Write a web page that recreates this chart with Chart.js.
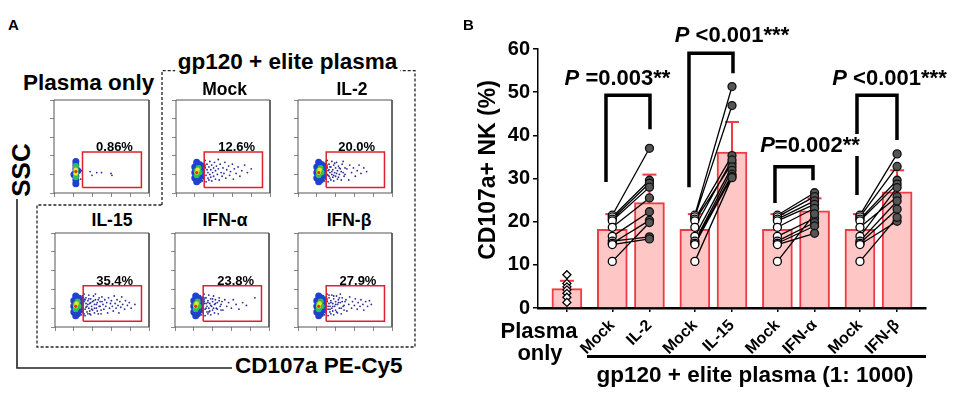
<!DOCTYPE html>
<html><head><meta charset="utf-8">
<script src="https://cdn.jsdelivr.net/npm/chart.js@4.4.0/dist/chart.umd.min.js"></script>
<style>
html,body{margin:0;padding:0;background:#fff;}
#root{position:relative;width:957px;height:395px;overflow:hidden;background:#fff;font-family:"Liberation Sans",Arial,sans-serif;font-weight:bold;color:#000;}
.t{position:absolute;white-space:nowrap;}
canvas{position:absolute;}
</style></head>
<body><div id="root">
<svg width="957" height="395" style="position:absolute;left:0;top:0">
 <polyline points="162,205 162,70.7 415,70.7 415,347 37,347 37,205 162,205" fill="none" stroke="#222" stroke-width="1.3" stroke-dasharray="3 2"/>
 <polyline points="17,199 17,368 232,368" fill="none" stroke="#222" stroke-width="1.6"/>
</svg>
</div>
<script>
// ---------------- Panel B data ----------------
const xTickPos    = [0, 1.1, 2, 3.1, 4, 5.1, 6, 7.1, 8];
const xTickLabels = ['', 'Mock', 'IL-2', 'Mock', 'IL-15', 'Mock', 'IFN-α', 'Mock', 'IFN-β'];
const barVals     = [4.5, 18.2, 24.4, 18.2, 36.1, 18.2, 22.5, 18.2, 26.9];
const errTop      = [6.3, 21.75, 30.9, 21.75, 43.1, 21.75, 25.4, 21.75, 31.9];
const plasmaVals  = [7.7, 5.7, 4.9, 4.2, 3.4, 2.5, 1.3];
const mockVals    = [21.5, 21.1, 20.6, 20.2, 18.7, 16.6, 15.5, 15.0, 14.7, 10.8];
const il2Vals     = [37.0, 29.6, 28.9, 28.0, 25.5, 22.3, 16.5, 20.3, 16.0, 19.8];
const il15Vals    = [51.3, 46.9, 35.3, 33.5, 34.3, 32.7, 31.9, 31.0, 30.5, 30.2];
const ifnaVals    = [26.7, 25.8, 24.8, 24.0, 23.1, 20.8, 19.8, 19.0, 17.3, 21.8];
const ifnbVals    = [35.7, 32.8, 29.6, 28.7, 25.8, 27.9, 24.8, 22.9, 20.1, 21.0];
const mockX       = [1.1, 3.1, 5.1, 7.1];
const treatX      = [2, 4, 6, 8];
const bracketLeftX  = [0.947, 2.958, 5.041, 7.028];
const bracketRightX = [2.013, 4.024, 5.962, 7.997];
const bracketTopY   = [49.3, 59.0, 32.7, 49.3];
const bracketLeftY  = [29.2, 28.0, 24.3, 26.2];
const bracketRightY = [41.4, 54.4, 29.6, 38.9];
const pLabels = ['<i>P</i> =0.003**', '<i>P</i> &lt;0.001***', '<i>P</i>=0.002**', '<i>P</i> &lt;0.001***'];

// ---------------- Panel A data ----------------
const flowTitles   = ['Plasma only', 'Mock', 'IL-2', 'IL-15', 'IFN-α', 'IFN-β'];
const flowPercents = ['0.86%', '12.6%', '20.0%', '35.4%', '23.8%', '27.9%'];
const gateX = [30, 92];
const gateY = [6, 44];
const plasmaOnlyEvents = [[38,23],[40,19],[45,22],[50,22],[60,21],[61,19],[29,24],[28,15]];
const coreEvents = [[26,16],[26,28],[27,20],[27,33],[28,13],[28,24],[29,18],[29,30],[30,22],[30,15],[31,27],[31,35],[32,19],[32,12],[33,25],[33,31],[34,16],[34,22],[35,28],[35,14],[36,20],[36,34],[37,25],[37,17],[38,30],[38,13],[39,22],[40,27],[40,18],[41,33],[42,15],[42,24],[43,29],[44,20],[45,26],[46,14],[47,31],[48,22],[49,18],[50,27]];
const mockTail = [[51,21],[52,33],[53,16],[54,25],[56,29],[57,19],[58,23],[60,31],[61,15],[62,26],[64,21],[66,28],[68,18],[70,24],[73,30],[76,22],[80,26],[45,36]];
const il2Extra = [[27,23],[28,29],[29,15],[30,34],[31,20],[32,24],[33,18],[34,28],[36,23],[38,19],[39,32],[41,21],[43,17],[44,27],[46,23],[48,34],[50,20],[52,26],[54,14],[55,30],[57,22],[59,27],[61,18],[63,24],[65,30],[67,21],[70,27],[73,23]];
const il15Extra = [[27,26],[28,18],[29,33],[30,25],[31,14],[32,29],[33,21],[35,24],[36,30],[37,14],[38,26],[39,19],[41,28],[42,20],[43,35],[44,24],[45,17],[46,29],[47,22],[48,27],[49,14],[50,32],[51,24],[52,19],[53,29],[54,22],[55,26],[56,15],[57,31],[58,20],[59,25],[60,28],[61,22],[62,17],[63,33],[64,25],[65,20],[66,29],[67,23],[68,15],[69,27],[70,21],[71,32],[72,24],[74,19],[75,28],[77,23],[79,26],[81,20],[85,24]];
const ifnaExtra = [[27,23],[28,30],[29,16],[31,25],[32,31],[33,20],[35,26],[36,16],[38,23],[40,30],[41,20],[43,25],[45,19],[47,28],[49,24],[51,18],[53,29],[55,22],[57,26],[60,20],[62,29],[65,24],[68,19],[72,26],[76,23],[85,31]];
const ifnbExtra = [[27,25],[28,31],[29,17],[30,28],[32,22],[33,34],[34,19],[35,26],[37,22],[38,33],[40,24],[41,16],[43,26],[44,31],[46,20],[47,27],[49,23],[51,29],[52,17],[54,24],[55,32],[57,20],[58,27],[60,23],[61,30],[63,19],[64,26],[66,22],[67,29],[69,24],[70,18],[72,27],[74,22],[76,28],[78,24],[45,35]];
const blobNarrow = {
  blue:   [[23,10],[23,14],[23,18],[23,22],[23,26],[23,30],[23,34],[21,20],[25,24]],
  green:  [[23,17],[23,21],[23,25],[23,29]],
  yellow: [[23,21],[23,25]],
  red:    [[23,23]]
};
const blobWide = {
  blue:   [[20,16],[20,22],[20,28],[24,14],[24,20],[24,26],[24,31],[27,18],[27,24],[28,29],[22,33],[22,12]],
  green:  [[22,19],[22,24],[25,22],[24,27]],
  yellow: [[22,22],[23,25]],
  red:    [[22,22]]
};
const frameBox = [[0,0],[0,100],[100,100],[100,0],[0,0]];

const FONT = '"Liberation Sans", Arial, sans-serif';
const root = document.getElementById('root');
const pts = a => a.map(([x, y]) => ({x, y}));

function txt(s, x, base, size, align, extra) {
  const d = document.createElement('div');
  d.className = 't';
  d.innerHTML = s;
  d.style.fontSize = size + 'px';
  d.style.lineHeight = size + 'px';
  d.style.top = (base - 0.8465 * size) + 'px';
  d.style.left = x + 'px';
  if (align === 'center') d.style.transform = 'translateX(-50%)';
  if (extra) Object.assign(d.style, extra);
  root.appendChild(d);
}
function vtxt(s, cx, cy, size) {
  const d = document.createElement('div');
  d.className = 't';
  d.innerHTML = s;
  d.style.fontSize = size + 'px';
  d.style.lineHeight = size + 'px';
  d.style.left = cx + 'px';
  d.style.top = cy + 'px';
  d.style.transform = 'translate(-50%,-50%) rotate(-90deg)';
  root.appendChild(d);
}

// ---------------- Panel A: flow plots ----------------
const frames = [
  {l: 54, t: 100, w: 95, h: 93},
  {l: 176, t: 100, w: 94, h: 93},
  {l: 298, t: 100, w: 94, h: 93},
  {l: 55, t: 233, w: 94, h: 94},
  {l: 175, t: 233, w: 94, h: 94},
  {l: 298, t: 233, w: 94, h: 94}
];
const flowEvents = [
  plasmaOnlyEvents,
  coreEvents.concat(mockTail),
  coreEvents.concat(il2Extra),
  coreEvents.concat(il15Extra),
  coreEvents.concat(ifnaExtra),
  coreEvents.concat(ifnbExtra)
];
const flowBlobs = [blobNarrow, blobWide, blobWide, blobWide, blobWide, blobWide];

function flowPanel(fr, events, blob) {
  const c = document.createElement('canvas');
  const pad = 6;
  c.width = fr.w + pad + 2; c.height = fr.h + pad + 2;
  c.style.left = (fr.l - pad) + 'px'; c.style.top = (fr.t - 2) + 'px';
  root.appendChild(c);
  const gate = [[gateX[0], gateY[0]], [gateX[1], gateY[0]], [gateX[1], gateY[1]], [gateX[0], gateY[1]], [gateX[0], gateY[0]]];
  new Chart(c, {
    type: 'scatter',
    data: {datasets: [
      {type: 'line', data: pts(frameBox), borderColor: '#555', borderWidth: 1, pointRadius: 0, order: 0, clip: false},
      {type: 'line', data: pts(gate), borderColor: '#e0202c', borderWidth: 1.5, pointRadius: 0, order: 1, clip: false},
      {data: pts(blob.red), pointRadius: 1.6, backgroundColor: '#e03015', borderWidth: 0, order: 2},
      {data: pts(blob.yellow), pointRadius: 2.3, backgroundColor: '#f0e030', borderWidth: 0, order: 3},
      {data: pts(blob.green), pointRadius: 3, backgroundColor: '#30c050', borderWidth: 0, order: 4},
      {data: pts(blob.blue), pointRadius: 3.5, backgroundColor: '#2040d0', borderWidth: 0, order: 5},
      {data: pts(events), pointRadius: 0.9, backgroundColor: '#2a2d95', borderWidth: 0, order: 6}
    ]},
    options: {
      responsive: false, animation: false, events: [],
      plugins: {legend: {display: false}, tooltip: {enabled: false}},
      layout: {padding: {top: 2, right: 2, left: 0, bottom: 0}, autoPadding: false},
      scales: {
        x: {type: 'linear', position: 'bottom', min: 0, max: 100,
            afterFit: s => { s.height = pad; },
            ticks: {display: false, stepSize: 20},
            grid: {drawOnChartArea: false, drawTicks: true, tickLength: 4, color: '#888', lineWidth: 1},
            border: {display: false}},
        y: {type: 'linear', position: 'left', min: 0, max: 100,
            afterFit: s => { s.width = pad; },
            ticks: {display: false, stepSize: 20},
            grid: {drawOnChartArea: false, drawTicks: true, tickLength: 4, color: '#888', lineWidth: 1},
            border: {display: false}}
      }
    }
  });
}
frames.forEach((fr, i) => flowPanel(fr, flowEvents[i], flowBlobs[i]));

// ---------------- Panel B: bar chart ----------------
const cB = document.createElement('canvas');
cB.width = 517; cB.height = 395;
cB.style.left = '440px'; cB.style.top = '0px';
root.appendChild(cB);

const RED = '#ee3b45';
const errData = [];
xTickPos.forEach((x, i) => { errData.push({x, y: barVals[i]}, {x, y: errTop[i]}, {x, y: null}); });
const pairData = [];
const treatSets = [il2Vals, il15Vals, ifnaVals, ifnbVals];
treatSets.forEach((tv, k) => {
  mockVals.forEach((m, i) => { pairData.push({x: mockX[k], y: m}, {x: treatX[k], y: tv[i]}, {x: treatX[k], y: null}); });
});
const mockPts = [];
mockX.forEach(x => mockVals.forEach(v => mockPts.push({x, y: v})));
const treatPts = [];
treatX.forEach((x, k) => treatSets[k].forEach(v => treatPts.push({x, y: v})));
const bracketData = [];
bracketLeftX.forEach((lx, i) => {
  bracketData.push({x: lx, y: bracketLeftY[i]}, {x: lx, y: bracketTopY[i]}, {x: bracketRightX[i], y: bracketTopY[i]}, {x: bracketRightX[i], y: bracketRightY[i]}, {x: bracketRightX[i], y: null});
});

new Chart(cB, {
  type: 'bar',
  data: {datasets: [
    {type: 'bar', data: xTickPos.map((x, i) => ({x, y: barVals[i]})), backgroundColor: '#ffc6c6', borderColor: RED, borderWidth: 2, barThickness: 30, order: 10},
    {type: 'line', data: errData, borderColor: RED, borderWidth: 2, pointRadius: 0, spanGaps: false, order: 9},
    {type: 'scatter', data: xTickPos.map((x, i) => ({x, y: errTop[i]})), pointStyle: 'line', pointRadius: 7, borderColor: RED, borderWidth: 2, order: 8},
    {type: 'line', data: pairData, borderColor: '#000', borderWidth: 1.3, pointRadius: 0, spanGaps: false, order: 7},
    {type: 'scatter', data: plasmaVals.map(v => ({x: 0, y: v})), pointStyle: 'rectRot', pointRadius: 4, backgroundColor: '#fff', borderColor: '#000', borderWidth: 1.3, order: 6},
    {type: 'scatter', data: mockPts, pointStyle: 'circle', pointRadius: 4, backgroundColor: '#fff', borderColor: '#000', borderWidth: 1.3, order: 5},
    {type: 'scatter', data: treatPts, pointStyle: 'circle', pointRadius: 4, backgroundColor: '#555', borderColor: '#111', borderWidth: 1.3, order: 4},
    {type: 'line', data: bracketData, borderColor: '#000', borderWidth: 3.5, pointRadius: 0, spanGaps: false, borderJoinStyle: 'miter', borderCapStyle: 'butt', clip: false, order: 1}
  ]},
  options: {
    responsive: false, animation: false, events: [],
    plugins: {legend: {display: false}, tooltip: {enabled: false}},
    layout: {padding: {top: 49, right: 31, left: 0, bottom: 0}},
    scales: {
      x: {
        type: 'linear', min: -0.7, max: 8.7, offset: false,
        afterBuildTicks: s => { s.ticks = xTickPos.map(v => ({value: v})); },
        afterFit: s => { s.height = 87; },
        ticks: {autoSkip: false, minRotation: 45, maxRotation: 45, padding: 4, color: '#000',
          font: {family: FONT, weight: 'bold', size: 16}, callback: (v, i) => xTickLabels[i]},
        grid: {drawOnChartArea: false, drawTicks: true, tickLength: 4, color: '#000', lineWidth: 1.5, offset: false},
        border: {color: '#000', width: 2.5}
      },
      y: {
        type: 'linear', min: 0, max: 60,
        afterFit: s => { s.width = 98; },
        ticks: {stepSize: 10, color: '#000', padding: 3, font: {family: FONT, weight: 'bold', size: 20}},
        grid: {drawOnChartArea: false, drawTicks: true, tickLength: 5, color: '#000', lineWidth: 1.5},
        border: {color: '#000', width: 1.5}
      }
    }
  }
});

// ---------------- Text ----------------
// Panel A
txt('A', 8, 30, 15, 'left');
txt('gp120 + elite plasma', 287.5, 70, 22.5, 'center', {background: '#fff', padding: '0 3px'});
txt(flowTitles[0], 23, 91, 22.5, 'left');
const titlePos = [null, [224.5, 96], [352, 96], [112, 226.7], [225, 226.7], [349, 226.7]];
for (let i = 1; i < 6; i++) txt(flowTitles[i], titlePos[i][0], titlePos[i][1], 17.5, 'center');
const pctPos = [[114.5, 150.7], [236.7, 150.7], [356.7, 150.7], [114.7, 285], [235.7, 285], [358, 285]];
flowPercents.forEach((p, i) => txt(p, pctPos[i][0], pctPos[i][1], 13, 'center'));
vtxt('SSC', 21, 170, 26);
txt('CD107a PE-Cy5', 235, 374, 22.5, 'left');
// Panel B
txt('B', 463, 30, 15, 'left');
vtxt('CD107a+ NK (%)', 487, 170, 23);
const pPos = [[617.5, 86], [732, 43], [810, 153], [889.5, 86]];
pLabels.forEach((p, i) => txt(p, pPos[i][0], pPos[i][1], 22, 'center', {background: '#fff'}));
txt('Plasma', 539, 339, 22, 'center');
txt('only', 540, 361, 22, 'center');
const ln = document.createElement('div');
ln.style.cssText = 'position:absolute;left:587px;top:354.5px;width:339px;height:3px;background:#000;';
root.appendChild(ln);
txt('gp120 + elite plasma (1: 1000)', 755, 383, 22.5, 'center');
</script>
</body></html>
